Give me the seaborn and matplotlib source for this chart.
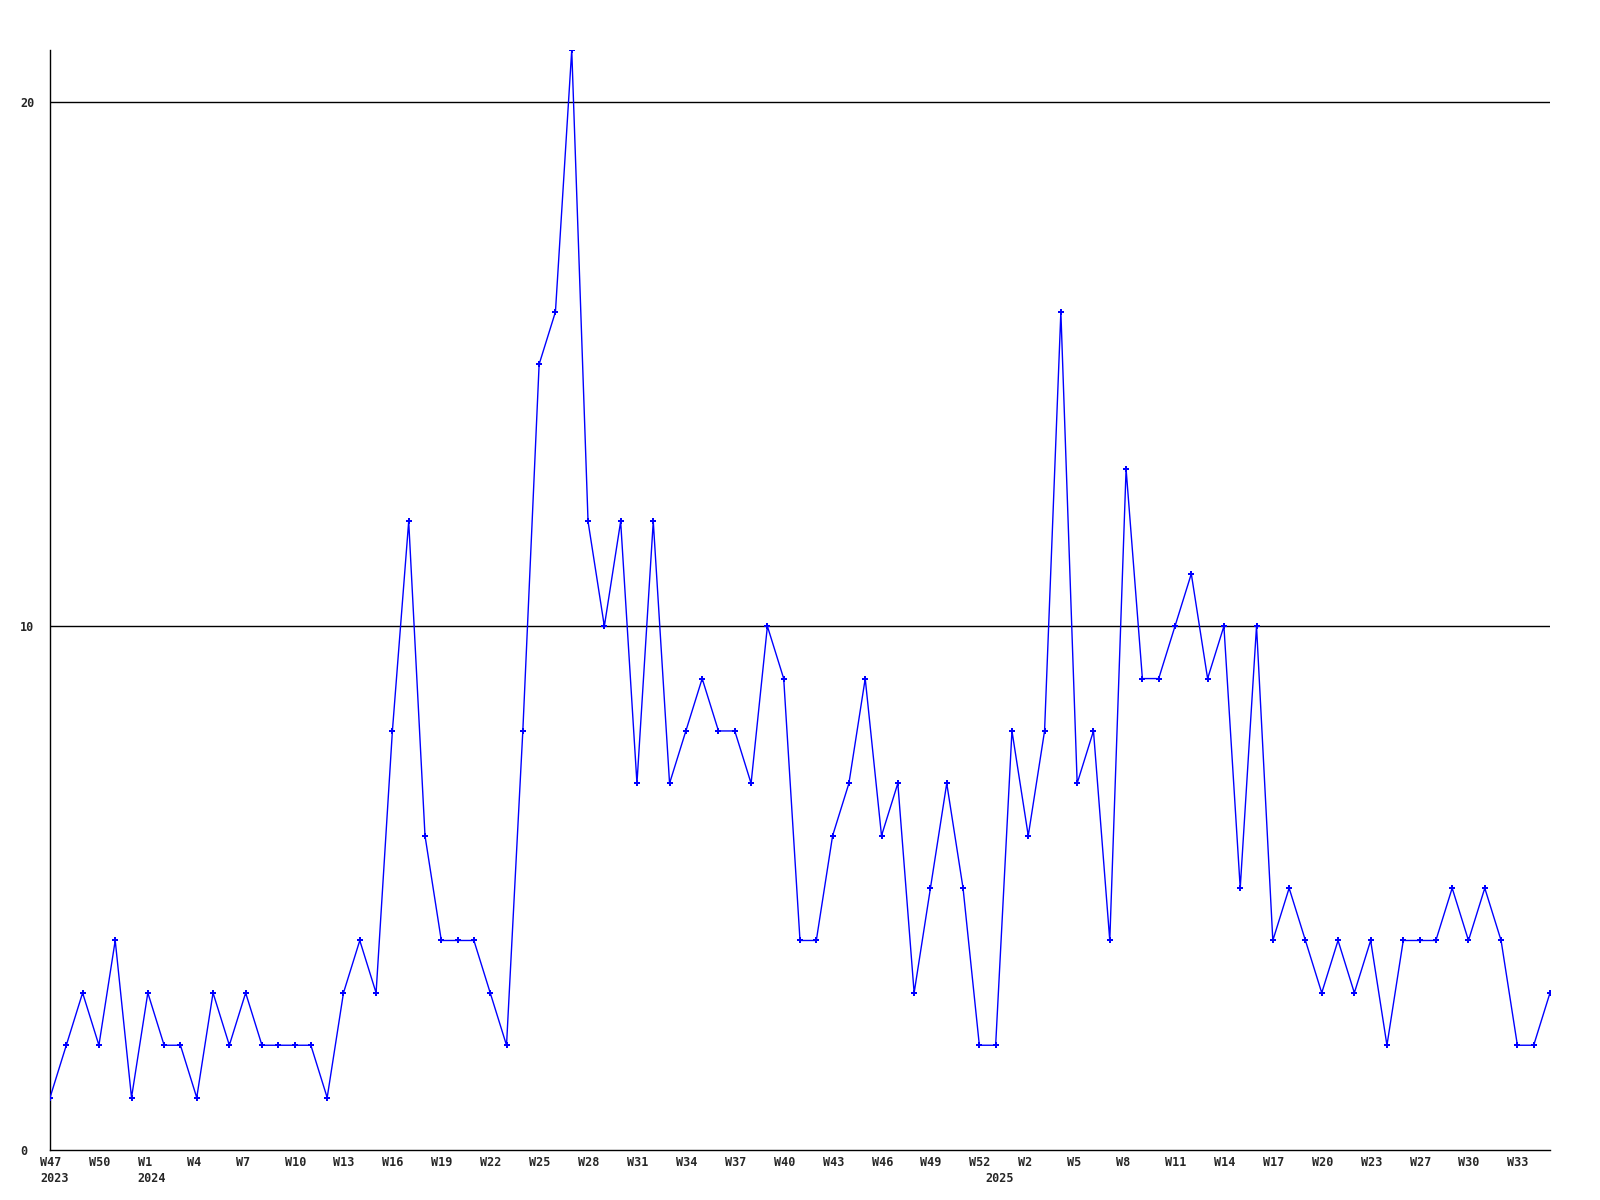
from matplotlib import pyplot as plt
from matplotlib import transforms
import pandas as pd
import seaborn as sns
import numpy as np

# weekly counts, W47 2023 .. W35 2025
counts = [1, 2, 3, 2, 4, 1, 3, 2, 2, 1, 3, 2, 3, 2, 2, 2, 2, 1, 3, 4,
          3, 8, 12, 6, 4, 4, 4, 3, 2, 8, 15, 16, 21, 12, 10, 12, 7, 12, 7, 8,
          9, 8, 8, 7, 10, 9, 4, 4, 6, 7, 9, 6, 7, 3, 5, 7, 5, 2, 2, 8,
          6, 8, 16, 7, 8, 4, 13, 9, 9, 10, 11, 9, 10, 5, 10, 4, 5, 4, 3, 4,
          3, 4, 2, 4, 4, 4, 5, 4, 5, 4, 2, 2, 3]

week_labels = ["W47", "W50", "W1", "W4", "W7", "W10", "W13", "W16", "W19", "W22",
               "W25", "W28", "W31", "W34", "W37", "W40", "W43", "W46", "W49", "W52",
               "W2", "W5", "W8", "W11", "W14", "W17", "W20", "W23", "W27", "W30", "W33"]
year_labels = ["2023", "2024", "2025"]
year_pos = [0, 6, 58]
y_ticks = [0, 10, 20]

df = pd.DataFrame({"week": np.arange(len(counts)), "count": counts})

sns.set_style("white")
plt.rcParams['font.family'] = ['DejaVu Sans Mono', 'DejaVu Sans']

fig = plt.figure(figsize=(16, 12), dpi=100)
ax = fig.add_axes([50 / 1600, 50 / 1200, 1500 / 1600, 1100 / 1200])

sns.lineplot(ax=ax, data=df, x="week", y="count", color="#0000ff",
             linewidth=1.0, marker="P", markersize=4.5, markeredgewidth=0,
             zorder=3)

for v in [10, 20]:
    ax.axhline(v, color="black", linewidth=1.0, zorder=1)

ax.set_xlim(0, len(counts) - 1)
ax.set_ylim(0, 21)
ax.set_xlabel('')
ax.set_ylabel('')

for s in ["top", "right"]:
    ax.spines[s].set_visible(False)
for s in ["left", "bottom"]:
    ax.spines[s].set_color("black")
    ax.spines[s].set_linewidth(1.0)

ax.set_yticks(y_ticks)
ax.set_yticklabels([str(t) for t in y_ticks], fontsize=8.5, fontweight="bold")
ax.tick_params(axis="y", length=0, pad=21.6)
for lab in ax.get_yticklabels():
    lab.set_horizontalalignment("left")

ax.set_xticks(np.arange(0, 3 * len(week_labels), 3))
ax.set_xticklabels(week_labels, fontsize=8.5, fontweight="bold")
ax.tick_params(axis="x", length=0, pad=4)
shift = transforms.ScaledTranslation(-10 / 100, 0, fig.dpi_scale_trans)
for lab in ax.get_xticklabels():
    lab.set_horizontalalignment("left")
    lab.set_transform(lab.get_transform() + shift)

trans = transforms.blended_transform_factory(ax.transData, ax.transAxes)
trans = trans + transforms.ScaledTranslation(-10 / 100, -22 / 100, fig.dpi_scale_trans)
for txt, pos in zip(year_labels, year_pos):
    ax.text(pos, 0, txt, transform=trans, ha="left", va="top",
            fontsize=8.5, fontweight="bold")

fig.savefig("out.png", dpi=100, facecolor="white")
